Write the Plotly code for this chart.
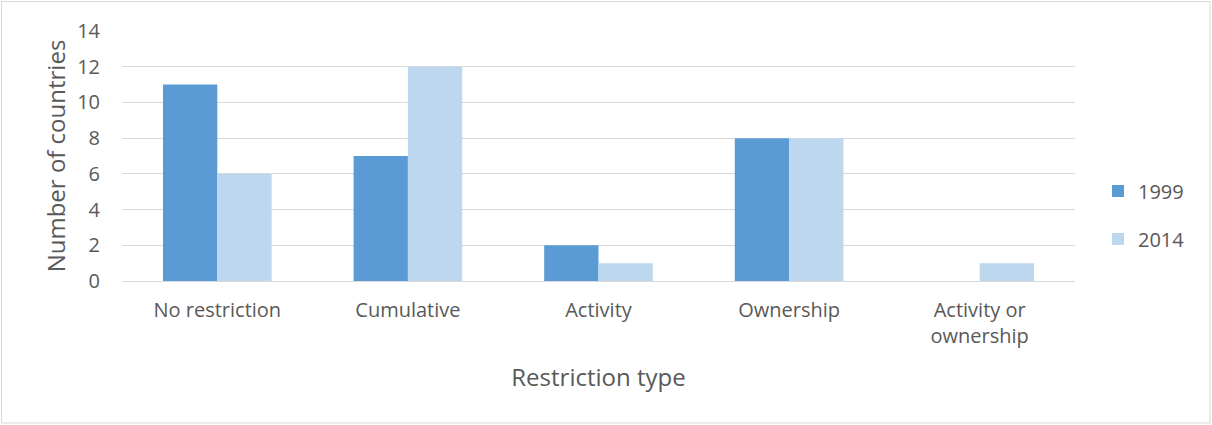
import plotly.graph_objects as go

categories = ["No restriction", "Cumulative", "Activity", "Ownership", "Activity or<br>ownership"]
series_names = ["1999", "2014"]
values_1999 = [11, 7, 2, 8, 0]
values_2014 = [6, 12, 1, 8, 1]
colors = ["#5b9bd5", "#bdd7ee"]

L, R, T, B = 122, 137, 31, 144
W, H = 1212, 425
pw, ph = W - L - R, H - T - B

fig = go.Figure()
for name, vals, col in zip(series_names, [values_1999, values_2014], colors):
    fig.add_trace(go.Bar(x=categories, y=vals, name=name, marker=dict(color=col, line=dict(width=0)),
                         legendgroup=name))

FONT = "Open Sans"
TXT = "#595959"
fig.update_layout(
    width=W, height=H,
    margin=dict(l=L, r=R, t=T, b=B),
    paper_bgcolor="white", plot_bgcolor="white",
    font=dict(family=FONT, size=20, color=TXT),
    bargap=0.43, bargroupgap=0,
    legend=dict(x=1 + (1098 - W + R) / pw, y=0.264, xanchor="left", yanchor="middle",
                font=dict(family=FONT, size=20, color=TXT),
                tracegroupgap=19, itemwidth=30),
    xaxis=dict(title=dict(text="Restriction type", font=dict(family=FONT, size=24, color=TXT), standoff=21),
               showgrid=False, showline=False, ticks="", tickfont=dict(size=20),
               ticklabelstandoff=15),
    yaxis=dict(title=dict(text="Number of countries", font=dict(family=FONT, size=24, color=TXT), standoff=4),
               range=[0, 14], dtick=2, showgrid=True, gridcolor="#d9d9d9", gridwidth=1,
               zeroline=True, zerolinecolor="#d9d9d9", zerolinewidth=1, showline=False,
               ticks="", tickfont=dict(size=20), ticklabelstandoff=21),
)
# outer frame
fig.add_shape(type="rect", xref="paper", yref="paper",
              x0=(1.5 - L) / pw, x1=1 + (R - 2) / pw,
              y0=-(B - 2) / ph, y1=1 + (T - 1.5) / ph,
              line=dict(color="#d9d9d9", width=1))
fig.write_html("out.html", config={"displayModeBar": False},
               post_script="document.body.style.margin='0';document.body.style.overflow='hidden';")
